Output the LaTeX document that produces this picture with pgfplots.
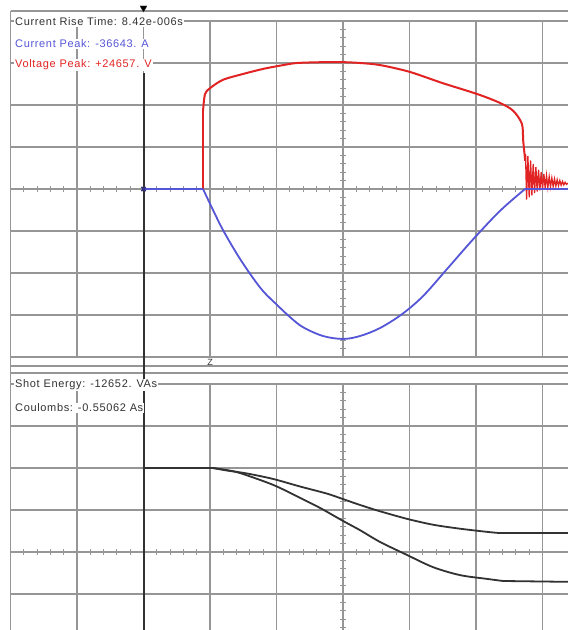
\documentclass[border=0pt]{standalone}
\usepackage{fontspec}
\setmainfont{Liberation Sans}
\newfontfamily\scopefont{Liberation Sans}[LetterSpace=6]
\usepackage{pgfplots}
\pgfplotsset{compat=1.18}
\definecolor{gridc}{RGB}{150,150,150}
\definecolor{vred}{RGB}{225,35,35}
\definecolor{cblue}{RGB}{85,85,215}
\definecolor{qblack}{RGB}{50,50,50}
\pgfplotsset{scopeaxis/.style={
  scale only axis, width=557.5pt,
  xmin=-5, xmax=3.383,
  axis lines=middle,
  axis line style={-, draw=gridc, line width=1.5pt},
  xtick={-5,...,3}, ytick={-4,...,4},
  xticklabels={}, yticklabels={},
  minor x tick num=4, minor y tick num=4,
  tick align=center,
  major tick length=7pt, minor tick length=6pt,
  tick style={draw=gridc, line width=0.9pt},
  grid=major,
  major grid style={draw=gridc, line width=1.5pt},
  clip=false,
}}
\begin{document}
\begin{tikzpicture}
\fill[white] (0,0) rectangle (568pt,-630pt);
\useasboundingbox (0,0) rectangle (568pt,-630pt);
% frame lines
\draw[gridc, line width=1.4pt] (10.5pt,-11pt) -- (568pt,-11pt);
\draw[gridc, line width=1.4pt] (10.5pt,-366pt) -- (568pt,-366pt);
\draw[gridc, line width=1.4pt] (10.5pt,-373pt) -- (568pt,-373pt);
\draw[gridc, line width=1.5pt] (10.5pt,-11pt) -- (10.5pt,-630pt);

% top panel: voltage and current
\begin{axis}[scopeaxis, at={(10.5pt,-21pt)}, anchor=north west,
  height=336pt, ymin=-4, ymax=4]
\addplot[qblack, line width=2pt] coordinates {(-3,2.76) (-3,-4.667)};
\addplot[qblack, only marks, mark=triangle*, mark size=4pt,
  mark options={rotate=180, fill=black}] coordinates {(-3,4.31)};
% voltage
\addplot[vred, line width=2pt] coordinates {(-3,0) (-2.105,0) (-2.105,1.86)};
\addplot[vred, line width=2pt, smooth, tension=0.5] coordinates {
(-2.105,1.86) (-2.075,2.26) (-2.0,2.40) (-1.805,2.60)
(-1.50,2.74) (-1.20,2.86) (-0.90,2.95) (-0.69,3.0) (-0.30,3.02) (0,3.02)
(0.26,3.0) (0.56,2.95) (1.0,2.79) (1.50,2.52) (2.02,2.26) (2.36,2.05)
(2.56,1.86) (2.69,1.55) (2.71,1.14) (2.74,0.67)};
\addplot[vred, line width=1.3pt] coordinates {
(2.74,0.67) (2.745,0.83) (2.76,-0.25) (2.78,0.78) (2.80,-0.20) (2.82,0.68) (2.84,-0.15)
(2.86,0.60) (2.88,-0.10) (2.90,0.52) (2.92,-0.06) (2.94,0.46) (2.96,-0.03)
(2.98,0.40) (3.00,0.0) (3.02,0.36) (3.04,0.02) (3.06,0.32) (3.08,0.04)
(3.10,0.29) (3.12,0.05) (3.14,0.26) (3.16,0.06) (3.18,0.24) (3.20,0.07)
(3.22,0.22) (3.24,0.08) (3.26,0.20) (3.28,0.09) (3.30,0.18) (3.32,0.10)
(3.34,0.16) (3.36,0.11) (3.383,0.14)};
% current
\addplot[cblue, line width=1.8pt] coordinates {(-3.0,0) (-2.105,0)};
\addplot[cblue, line width=1.8pt, smooth, tension=0.55] coordinates {
(-2.105,0) (-1.955,-0.50) (-1.805,-0.976) (-1.594,-1.55) (-1.398,-2.02)
(-1.203,-2.43) (-0.992,-2.76) (-0.797,-3.05) (-0.602,-3.29) (-0.301,-3.50)
(0.0,-3.57) (0.256,-3.50) (0.556,-3.31) (0.887,-2.98) (1.203,-2.55)
(1.564,-1.905) (1.955,-1.20) (2.361,-0.52) (2.737,0)};
\addplot[cblue, line width=1.8pt] coordinates {(2.737,0) (3.383,0)};
\addplot[cblue!60!black, only marks, mark=x, mark size=3pt,
  mark options={line width=1.5pt}] coordinates {(-3,0)};
\node[text=qblack] at (axis cs:-2,-4.14) {\scopefont\fontsize{9}{9}\selectfont Z};
\end{axis}

% bottom panel: energy and charge
\begin{axis}[scopeaxis, at={(10.5pt,-384pt)}, anchor=north west,
  height=246pt, ymin=-1.857, ymax=4]
\addplot[qblack, line width=2pt] coordinates {(-3,4) (-3,-1.857)};
\addplot[qblack, line width=1.8pt] coordinates {(-2.992,2.0) (-1.955,2.0)};
\addplot[qblack, line width=1.8pt, smooth, tension=0.5] coordinates {
(-1.955,2.0) (-1.744,1.94) (-1.444,1.87) (-1.053,1.74)
(-0.647,1.56) (-0.241,1.39) (0.0,1.26) (0.256,1.12) (0.556,0.97)
(0.962,0.79) (1.353,0.65) (1.759,0.555) (2.165,0.48) (2.361,0.45)};
\addplot[qblack, line width=1.8pt] coordinates {(2.361,0.45) (3.383,0.45)};
\addplot[qblack, line width=1.8pt, smooth, tension=0.5] coordinates {
(-1.955,2.0) (-1.744,1.95) (-1.549,1.88) (-1.053,1.60)
(-0.647,1.29) (-0.346,1.05) (0.0,0.74) (0.256,0.52) (0.556,0.24)
(0.962,-0.07) (1.353,-0.36) (1.759,-0.55) (2.165,-0.64) (2.406,-0.69)};
\addplot[qblack, line width=1.8pt] coordinates {(2.406,-0.69) (3.383,-0.71)};
\end{axis}

% readouts
\begin{scope}[every node/.style={anchor=west, fill=white, inner sep=1pt,
  font=\scopefont\fontsize{11}{12}\selectfont}]
\node[text=qblack] at (14pt,-22pt) {Current Rise Time: 8.42e-006s};
\node[text=cblue] at (14pt,-44pt) {Current Peak: -36643. A};
\node[text=vred] at (14pt,-65pt) {Voltage Peak: +24657. V};
\node[text=qblack] at (14pt,-385pt) {Shot Energy: -12652. VAs};
\node[text=qblack] at (14pt,-408pt) {Coulombs: -0.55062 As};
\end{scope}
\end{tikzpicture}
\end{document}
